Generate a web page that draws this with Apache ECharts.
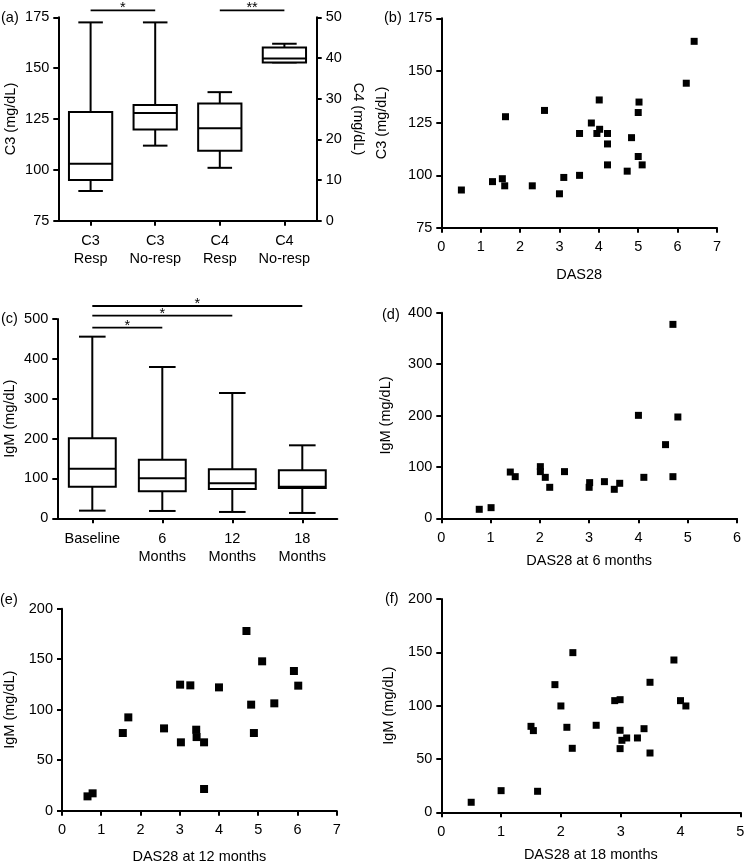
<!DOCTYPE html>
<html><head><meta charset="utf-8">
<script src="https://cdn.jsdelivr.net/npm/echarts@6/dist/echarts.min.js"></script>
<style>html,body{margin:0;padding:0;background:#fff}#c{width:744px;height:863px}</style>
</head><body><div id="c"></div>
<script>
// ---------- DATA ----------
const catsA = ['C3\nResp', 'C3\nNo-resp', 'C4\nResp', 'C4\nNo-resp'];
// [min, Q1, median, Q3, max]
const c3Resp = [89.6, 95, 103, 128.4, 172.5];
const c3NoResp = [111.9, 119.8, 128, 131.9, 172.5];
const c4Resp = [13.0, 17.2, 22.7, 28.8, 31.6];
const c4NoResp = [38.9, 38.9, 39.9, 42.6, 43.5];
const sigA3 = [[0, 1, 178.4]]; const starsA3 = ['*'];
const sigA4 = [[2, 3, 51.7]]; const starsA4 = ['**'];

const dasB = [0.51,1.30,1.55,1.61,1.63,2.31,2.62,3.00,3.11,3.51,3.51,3.81,3.95,4.01,4.02,4.22,4.22,4.22,4.72,4.83,5.00,5.02,5.00,5.10,6.22,6.42];
const c3B = [93,97,98.4,95,128,95,131,91.2,99,120,100,125,120,136,122,120,115,105,102,118,130,135,109,105,144,164];

const catsC = ['Baseline', '6\nMonths', '12\nMonths', '18\nMonths'];
const igmBaseline = [19.2, 79.4, 124.6, 200.7, 455.7];
const igm6 = [18.4, 67.7, 100.3, 147.2, 379.6];
const igm12 = [15.9, 73.6, 87.8, 122.9, 314.4];
const igm18 = [13.4, 76.1, 79.4, 120.4, 183.1];
const sigC = [[0, 1, 478.2], [0, 2, 508.3], [0, 3, 532.6]]; const starsC = ['*', '*', '*'];

const dasD = [0.77,1.01,1.40,1.50,2.01,2.01,2.11,2.20,2.50,3.00,3.01,3.31,3.51,3.62,4.00,4.11,4.55,4.70,4.70,4.80];
const igmD = [17.5,20.7,90,81,100.5,90.8,79.7,60.3,90.8,60.3,69.4,71.3,56.4,68.1,200.3,79.7,143.3,377.3,81,197.1];

const dasE = [0.65,0.78,1.55,1.69,2.60,3.01,3.03,3.27,3.42,3.43,3.62,3.62,4.00,4.70,4.82,4.89,5.10,5.41,5.91,6.02];
const igmE = [14.2,17.2,76.9,92.4,81.5,124.8,67.7,124.1,80.2,72.9,67.7,21.5,122.1,177.9,105,76.9,147.9,106.3,138.3,123.8];

const dasF = [0.50,1.00,1.61,1.50,1.54,1.90,2.00,2.10,2.19,2.20,2.59,2.90,2.99,2.99,2.99,3.02,3.10,3.28,3.39,3.49,3.49,3.89,4.00,4.09];
const igmF = [9.4,20.3,19.7,80.6,76.6,119.7,99.7,79.7,60,149.7,81.6,104.7,105.6,76.9,59.7,67.5,69.7,69.7,78.4,121.9,55.6,142.8,104.7,99.7];

const panelLabels = ['(a)', '(b)', '(c)', '(d)', '(e)', '(f)'];

// ---------- STYLE ----------
const FONT = "'Liberation Sans', Arial, sans-serif";
const FS = 14.5;
const INK = '#000';
const txt = (extra) => Object.assign({ color: INK, fontFamily: FONT, fontSize: FS }, extra || {});

function axisBase(extra) {
  return Object.assign({
    axisLine: { show: true, onZero: false, lineStyle: { color: INK, width: 2 } },
    axisTick: { show: true, length: 5, lineStyle: { color: INK, width: 2 } },
    splitLine: { show: false },
    axisLabel: txt({ margin: 9 }),
    nameTextStyle: txt(),
    nameLocation: 'middle'
  }, extra);
}

function zip(a, b) { return a.map((v, i) => [v, b[i]]); }
function boxRows(list, startIdx) { return list.map((b, i) => [startIdx + i].concat(b)); }

function boxRender(params, api) {
  const x = api.value(0);
  const lo = api.coord([x, api.value(1)]);
  const q1 = api.coord([x, api.value(2)]);
  const md = api.coord([x, api.value(3)]);
  const q3 = api.coord([x, api.value(4)]);
  const hi = api.coord([x, api.value(5)]);
  const bw = api.size([1, 0])[0];
  const boxW = bw * 0.67, capW = bw * 0.38, cx = lo[0];
  const st = { stroke: INK, lineWidth: 2, fill: null };
  const ln = (x1, y1, x2, y2) => ({ type: 'line', shape: { x1, y1, x2, y2 }, style: st });
  return { type: 'group', children: [
    ln(cx, hi[1], cx, q3[1]),
    ln(cx, q1[1], cx, lo[1]),
    ln(cx - capW / 2, hi[1], cx + capW / 2, hi[1]),
    ln(cx - capW / 2, lo[1], cx + capW / 2, lo[1]),
    { type: 'rect', shape: { x: cx - boxW / 2, y: q3[1], width: boxW, height: q1[1] - q3[1] }, style: { stroke: INK, lineWidth: 2, fill: '#fff' } },
    ln(cx - boxW / 2, md[1], cx + boxW / 2, md[1])
  ] };
}

function sigRender(stars) {
  return function (params, api) {
    const p1 = api.coord([api.value(0), api.value(2)]);
    const p2 = api.coord([api.value(1), api.value(2)]);
    return { type: 'group', children: [
      { type: 'line', shape: { x1: p1[0], y1: p1[1], x2: p2[0], y2: p2[1] }, style: { stroke: INK, lineWidth: 1.8 } },
      { type: 'text', x: (p1[0] + p2[0]) / 2, y: p1[1] - 2,
        style: { text: stars[params.dataIndex], fill: INK, font: FS + 'px ' + FONT, align: 'center', verticalAlign: 'middle' } }
    ] };
  };
}

const grids = [
  { left: 58.3, top: 17.3, width: 258.4, height: 203.4 },
  { left: 441.3, top: 18.3, width: 275.7, height: 209.4 },
  { left: 57.3, top: 319, width: 280, height: 199.3 },
  { left: 441.3, top: 312.7, width: 295.7, height: 205.6 },
  { left: 62, top: 608.7, width: 274.7, height: 202 },
  { left: 441.3, top: 599, width: 299, height: 213.3 }
].map(g => Object.assign({ outerBoundsMode: 'none', containLabel: false }, g));

const catAxisLabel = txt({ margin: 11, lineHeight: 18.5, interval: 0 });
const catTick = { show: true, alignWithLabel: true, length: 5, lineStyle: { color: INK, width: 2 } };

const xAxes = [
  axisBase({ gridIndex: 0, type: 'category', data: catsA, boundaryGap: true, axisTick: catTick, axisLabel: catAxisLabel }),
  axisBase({ gridIndex: 1, type: 'value', min: 0, max: 7, interval: 1, name: 'DAS28', nameGap: 40, axisLabel: txt({ margin: 12 }) }),
  axisBase({ gridIndex: 2, type: 'category', data: catsC, boundaryGap: true, axisTick: catTick, axisLabel: catAxisLabel }),
  axisBase({ gridIndex: 3, type: 'value', min: 0, max: 6, interval: 1, name: 'DAS28 at 6 months', nameGap: 35.5, axisLabel: txt({ margin: 12 }) }),
  axisBase({ gridIndex: 4, type: 'value', min: 0, max: 7, interval: 1, name: 'DAS28 at 12 months', nameGap: 38.5, axisLabel: txt({ margin: 12 }) }),
  axisBase({ gridIndex: 5, type: 'value', min: 0, max: 5, interval: 1, name: 'DAS28 at 18 months', nameGap: 35.5, axisLabel: txt({ margin: 12 }) })
];

const yAxes = [
  axisBase({ gridIndex: 0, type: 'value', min: 75, max: 175, interval: 25, name: 'C3 (mg/dL)', nameGap: 40 }),
  axisBase({ gridIndex: 0, type: 'value', position: 'right', min: 0, max: 50, interval: 10, name: 'C4 (mg/dL)', nameRotate: -90, nameGap: 34 }),
  axisBase({ gridIndex: 1, type: 'value', min: 75, max: 175, interval: 25, name: 'C3 (mg/dL)', nameGap: 52 }),
  axisBase({ gridIndex: 2, type: 'value', min: 0, max: 500, interval: 100, name: 'IgM (mg/dL)', nameGap: 40 }),
  axisBase({ gridIndex: 3, type: 'value', min: 0, max: 400, interval: 100, name: 'IgM (mg/dL)', nameGap: 48 }),
  axisBase({ gridIndex: 4, type: 'value', min: 0, max: 200, interval: 50, name: 'IgM (mg/dL)', nameGap: 45 }),
  axisBase({ gridIndex: 5, type: 'value', min: 0, max: 200, interval: 50, name: 'IgM (mg/dL)', nameGap: 45 })
];

const scatter = (xi, yi, data, size) => ({
  type: 'scatter', xAxisIndex: xi, yAxisIndex: yi, data, symbol: 'rect', symbolSize: size,
  itemStyle: { color: INK, opacity: 1 }, silent: true, clip: false
});

const series = [
  { type: 'custom', xAxisIndex: 0, yAxisIndex: 0, renderItem: boxRender, encode: { x: 0, y: [1, 2, 3, 4, 5] }, data: boxRows([c3Resp, c3NoResp], 0), clip: false },
  { type: 'custom', xAxisIndex: 0, yAxisIndex: 1, renderItem: boxRender, encode: { x: 0, y: [1, 2, 3, 4, 5] }, data: boxRows([c4Resp, c4NoResp], 2), clip: false },
  { type: 'custom', xAxisIndex: 0, yAxisIndex: 0, renderItem: sigRender(starsA3), encode: { x: [0, 1], y: 2 }, data: sigA3, clip: false },
  { type: 'custom', xAxisIndex: 0, yAxisIndex: 1, renderItem: sigRender(starsA4), encode: { x: [0, 1], y: 2 }, data: sigA4, clip: false },
  scatter(1, 2, zip(dasB, c3B), 7),
  { type: 'custom', xAxisIndex: 2, yAxisIndex: 3, renderItem: boxRender, encode: { x: 0, y: [1, 2, 3, 4, 5] }, data: boxRows([igmBaseline, igm6, igm12, igm18], 0), clip: false },
  { type: 'custom', xAxisIndex: 2, yAxisIndex: 3, renderItem: sigRender(starsC), encode: { x: [0, 1], y: 2 }, data: sigC, clip: false },
  scatter(3, 4, zip(dasD, igmD), 7),
  scatter(4, 5, zip(dasE, igmE), 8),
  scatter(5, 6, zip(dasF, igmF), 7)
];

const labelPos = [[1, 10], [384, 10], [1, 311], [382, 307], [0, 592], [385, 591]];
const graphic = panelLabels.map((t, i) => ({
  type: 'text', left: labelPos[i][0], top: labelPos[i][1],
  style: { text: t, fill: INK, font: FS + 'px ' + FONT }
}));

const chart = echarts.init(document.getElementById('c'), null, { renderer: 'canvas' });
chart.setOption({
  animation: false,
  backgroundColor: '#fff',
  grid: grids,
  xAxis: xAxes,
  yAxis: yAxes,
  series,
  graphic
});
</script></body></html>
